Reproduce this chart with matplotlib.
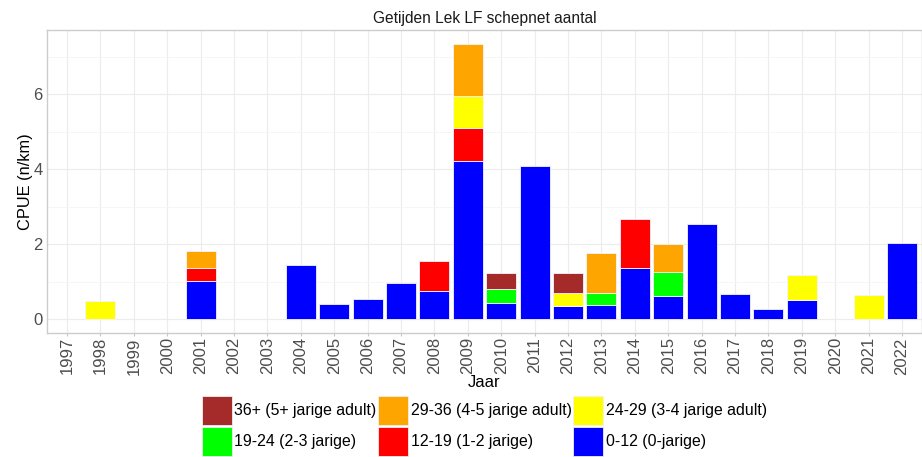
import matplotlib
matplotlib.use("Agg")
import matplotlib.pyplot as plt
import numpy as np
from matplotlib.patches import Patch

plt.rcParams['font.family'] = ['Liberation Sans', 'DejaVu Sans']

years = list(range(1997, 2023))
# values per size class, one per year 1997..2022
v_0_12 = [0, 0, 0, 0, 1.02, 0, 0, 1.45, 0.41, 0.54, 0.96, 0.74, 4.21, 0.43, 4.09, 0.35,
          0.37, 1.36, 0.62, 2.55, 0.68, 0.27, 0.51, 0, 0, 2.03]
v_12_19 = [0, 0, 0, 0, 0.36, 0, 0, 0, 0, 0, 0, 0.81, 0.88, 0, 0, 0,
           0, 1.31, 0, 0, 0, 0, 0, 0, 0, 0]
v_19_24 = [0, 0, 0, 0, 0, 0, 0, 0, 0, 0, 0, 0, 0, 0.37, 0, 0,
           0.34, 0, 0.65, 0, 0, 0, 0, 0, 0, 0]
v_24_29 = [0, 0.49, 0, 0, 0, 0, 0, 0, 0, 0, 0, 0, 0.86, 0, 0, 0.36,
           0, 0, 0, 0, 0, 0, 0.67, 0, 0.65, 0]
v_29_36 = [0, 0, 0, 0, 0.44, 0, 0, 0, 0, 0, 0, 0, 1.40, 0, 0, 0,
           1.07, 0, 0.75, 0, 0, 0, 0, 0, 0, 0]
v_36p = [0, 0, 0, 0, 0, 0, 0, 0, 0, 0, 0, 0, 0, 0.44, 0, 0.53,
         0, 0, 0, 0, 0, 0, 0, 0, 0, 0]

labels = ["0-12 (0-jarige)", "12-19 (1-2 jarige)", "19-24 (2-3 jarige)",
          "24-29 (3-4 jarige adult)", "29-36 (4-5 jarige adult)", "36+ (5+ jarige adult)"]
series = [v_0_12, v_12_19, v_19_24, v_24_29, v_29_36, v_36p]
colors = ["#0000FF", "#FF0000", "#00FF00", "#FFFF00", "#FFA500", "#A52A2A"]

fig = plt.figure(figsize=(9.22, 4.57), dpi=100)
ax = fig.add_axes([47/922, 1-333/457, 875/922, 303/457])

x = np.arange(len(years))
bottom = np.zeros(len(years))
for vals, col in zip(series, colors):
    vals = np.array(vals, dtype=float)
    m = vals > 0
    ax.bar(x[m], vals[m], bottom=bottom[m], width=0.9, color=col,
           edgecolor="#f4f4ff", linewidth=0.6, zorder=3)
    bottom += vals

ax.set_xlim(-0.6, len(years) - 0.4)
ax.set_ylim(-0.3675, 7.7175)
ax.set_xticks(x)
ax.set_xticklabels([str(y) for y in years], rotation=90, fontsize=12, color="#4d4d4d")
ax.set_yticks([0, 2, 4, 6])
ax.set_yticks([1, 3, 5, 7], minor=True)
ax.tick_params(axis='y', which='both', length=0, labelsize=12, labelcolor="#4d4d4d", pad=3)
ax.tick_params(axis='x', length=2.5, color="#c8c8c8", width=0.8, pad=0.5)
ax.grid(True, which='major', color="#ececec", linewidth=0.8, zorder=0)
ax.grid(True, which='minor', axis='y', color="#f5f5f5", linewidth=0.6, zorder=0)
ax.set_axisbelow(True)
for s in ax.spines.values():
    s.set_color("#cccccc")
    s.set_linewidth(1.0)

ax.set_title("Getijden Lek LF schepnet aantal", fontsize=11.2, color="#1a1a1a", pad=5)
ax.set_ylabel("CPUE (n/km)", fontsize=11.8, color="black", labelpad=0.5)
ax.set_xlabel("Jaar", fontsize=12, color="black", labelpad=0)

handles = {lab: Patch(facecolor=c, edgecolor="#f0f0f0", linewidth=0.6) for lab, c in zip(labels, colors)}
order = ["36+ (5+ jarige adult)", "19-24 (2-3 jarige)",
         "29-36 (4-5 jarige adult)", "12-19 (1-2 jarige)",
         "24-29 (3-4 jarige adult)", "0-12 (0-jarige)"]
fig.legend([handles[o] for o in order], order, ncol=3, loc="upper left",
           bbox_to_anchor=(202/922, 1-396/457), frameon=False, fontsize=11.4,
           handlelength=1.9, handleheight=2.44, handletextpad=0.15,
           columnspacing=0.1, labelspacing=0.12, borderpad=0, borderaxespad=0)

fig.savefig("out.png", dpi=100)
